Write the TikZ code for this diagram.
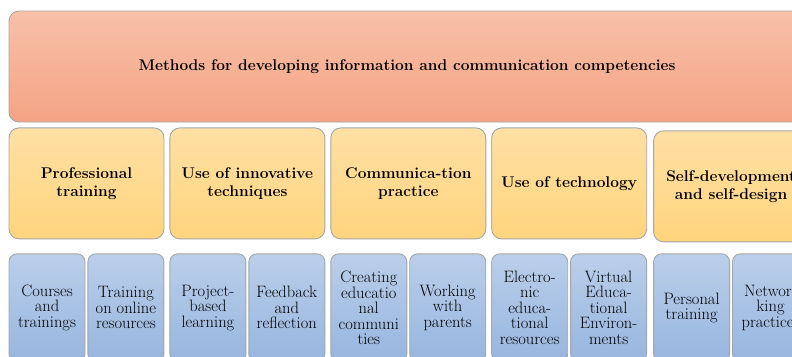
\documentclass[tikz,border=0pt]{standalone}
\usepackage{fontspec}
\usepackage{tikz}
\usetikzlibrary{positioning}
\definecolor{topA}{HTML}{F8C1A9}
\definecolor{topB}{HTML}{F4A384}
\definecolor{midA}{HTML}{FFE0A4}
\definecolor{midB}{HTML}{FFD47D}
\definecolor{itemA}{HTML}{BACFEA}
\definecolor{itemB}{HTML}{97B5DF}
\definecolor{rim}{HTML}{A5A5A5}
\tikzset{
  mainbox/.style={rectangle, draw=rim, top color=topA, bottom color=topB,
                  rounded corners=10pt, minimum width=796pt, minimum height=111pt,
                  font=\fontsize{15.5}{17}\selectfont\bfseries},
  groupbox/.style={rectangle, draw=rim, top color=midA, bottom color=midB,
                   align=center, rounded corners=10pt, minimum width=155pt,
                   minimum height=111pt, inner sep=2pt,
                   font=\fontsize{15.5}{18}\selectfont\bfseries},
  itembox/.style={rectangle, draw=rim, top color=itemA, bottom color=itemB,
                  align=center, rounded corners=8pt, minimum width=76pt,
                  minimum height=108pt, inner sep=1pt,
                  font=\fontsize{16.5}{15.5}\selectfont},
}
\begin{document}
\begin{tikzpicture}[x=1pt, y=1pt, line width=0.9pt]
  \useasboundingbox (0,0) rectangle (792,-356);
  \clip (0,0) rectangle (792,-356);

  \node[mainbox] (top) at (407,-66.5) {Methods for developing information and communication competencies};

  % second row
  \node[groupbox, below right=5pt and 0pt of top.south west] (g1) {Professional\\training};
  \node[groupbox, right=5pt of g1] (g2) {Use of innovative\\techniques};
  \node[groupbox, right=5pt of g2] (g3) {Communica-tion\\practice};
  \node[groupbox, right=5pt of g3] (g4) {Use of technology};
  \node[groupbox, right=6pt of g4, yshift=-3pt] (g5) {Self-development\\and self-design};

  % third row
  \node[itembox, below right=14pt and 0pt of g1.south west] (i1) {Courses\\and\\trainings};
  \node[itembox, right=2pt of i1] (i2) {Training\\on online\\resources};
  \node[itembox, below right=14pt and 0pt of g2.south west] (i3) {Project-\\based\\learning};
  \node[itembox, right=2pt of i3] (i4) {Feedback\\and\\reflection};
  \node[itembox, below right=14pt and 0pt of g3.south west] (i5) {Creating\\educatio\\nal\\communi\\ties};
  \node[itembox, right=2pt of i5] (i6) {Working\\with\\parents};
  \node[itembox, below right=14pt and 0pt of g4.south west] (i7) {Electro-\\nic\\educa-\\tional\\resources};
  \node[itembox, right=2pt of i7] (i8) {Virtual\\Educa-\\tional\\Environ-\\ments};
  \node[itembox, below right=11pt and 0pt of g5.south west] (i9) {Personal\\training};
  \node[itembox, right=2pt of i9] (i10) {Networ-\\king\\practices};
\end{tikzpicture}
\end{document}
